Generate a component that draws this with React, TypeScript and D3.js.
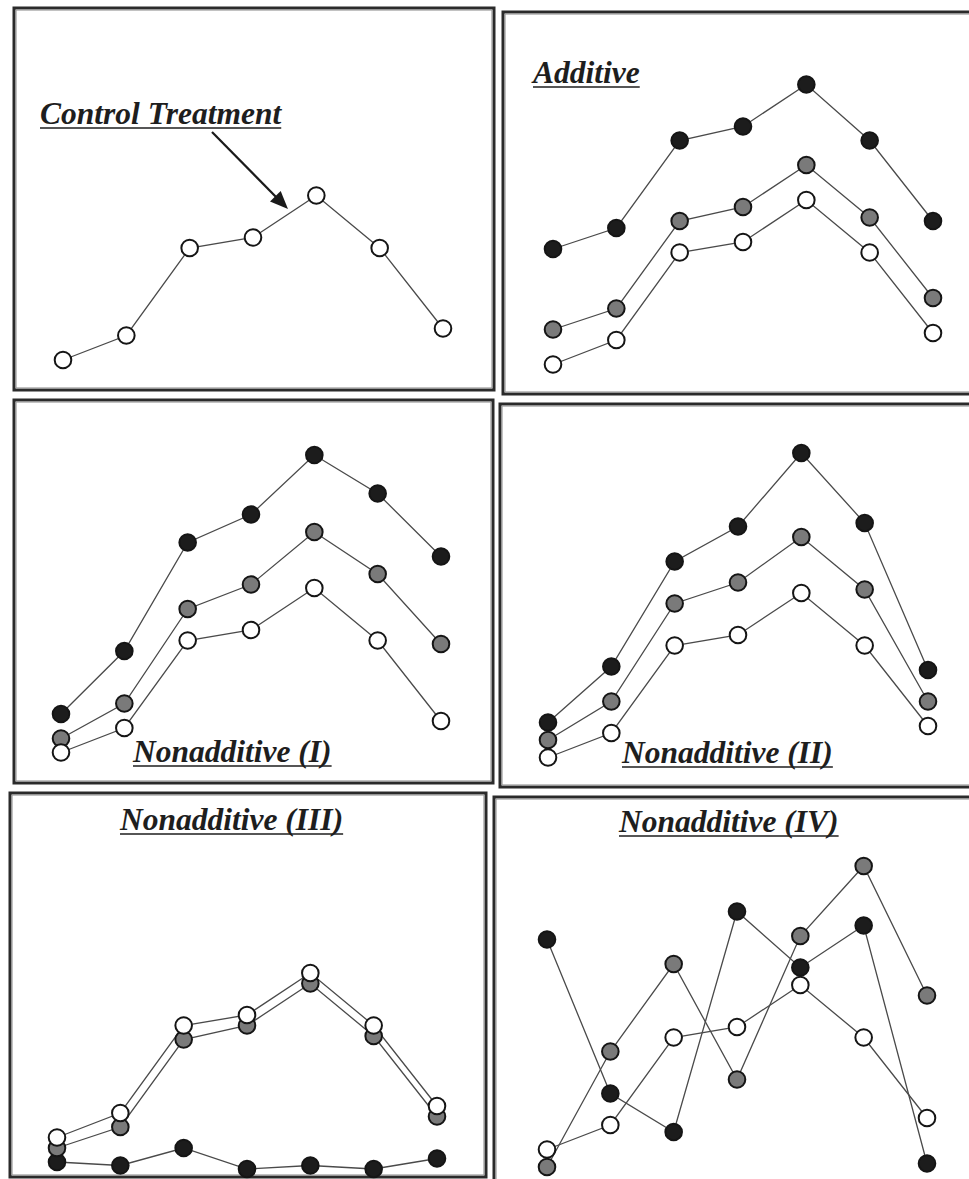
import React from "react";
import * as d3 from "d3";

// ---- data (arbitrary response units, 0–100) ----
const positions = [0, 1, 2, 3, 4, 5, 6];
const control = [5, 12, 37, 40, 52, 37, 14];
const additiveGray = [15, 21, 46, 50, 62, 47, 24];
const additiveBlack = [38, 44, 69, 73, 85, 69, 46];
const nonIGray = [9, 19, 46, 53, 68, 56, 36];
const nonIBlack = [16, 34, 65, 73, 90, 79, 61];
const nonIIGray = [10, 21, 49, 55, 68, 53, 21];
const nonIIBlack = [15, 31, 61, 71, 92, 72, 30];
const nonIIIGray = [2, 8, 33, 37, 49, 34, 11];
const nonIIIBlack = [-2, -3, 2, -4, -3, -4, -1];
const nonIVGray = [0, 33, 58, 25, 66, 86, 49];
const nonIVBlack = [65, 21, 10, 73, 57, 69, 1];

const titles = [
  "Control Treatment",
  "Additive",
  "Nonadditive (I)",
  "Nonadditive (II)",
  "Nonadditive (III)",
  "Nonadditive (IV)",
];

type Series = { values: number[]; fill: string };

const panelSeries: Series[][] = [
  [{ values: control, fill: "#ffffff" }],
  [
    { values: additiveBlack, fill: "#1c1c1c" },
    { values: additiveGray, fill: "#7a7a7a" },
    { values: control, fill: "#ffffff" },
  ],
  [
    { values: nonIBlack, fill: "#1c1c1c" },
    { values: nonIGray, fill: "#7a7a7a" },
    { values: control, fill: "#ffffff" },
  ],
  [
    { values: nonIIBlack, fill: "#1c1c1c" },
    { values: nonIIGray, fill: "#7a7a7a" },
    { values: control, fill: "#ffffff" },
  ],
  [
    { values: nonIIIBlack, fill: "#1c1c1c" },
    { values: nonIIIGray, fill: "#7a7a7a" },
    { values: control, fill: "#ffffff" },
  ],
  [
    { values: nonIVBlack, fill: "#1c1c1c" },
    { values: nonIVGray, fill: "#7a7a7a" },
    { values: control, fill: "#ffffff" },
  ],
];

// ---- layout ----
const W = 969;
const H = 1179;
const panels = [
  { x: 14, y: 8, w: 480, h: 382, dx: 49, base: 369.5, tx: 40, ty: 124 },
  { x: 503, y: 12, w: 490, h: 382, dx: 50, base: 370, tx: 533, ty: 83 },
  { x: 14, y: 400, w: 479, h: 383, dx: 47, base: 370, tx: 133, ty: 762 },
  { x: 500, y: 404, w: 490, h: 383, dx: 48, base: 371, tx: 622, ty: 763 },
  { x: 10, y: 793, w: 476, h: 384, dx: 47, base: 362, tx: 120, ty: 830 },
  { x: 494, y: 797, w: 490, h: 400, dx: 53, base: 370, tx: 619, ty: 832 },
];

const fontFamily = '"Liberation Serif", "Times New Roman", serif';

function Title({ x, y, text }: { x: number; y: number; text: string }) {
  const ref = React.useRef<SVGTextElement>(null);
  const [len, setLen] = React.useState(0);
  React.useLayoutEffect(() => {
    if (ref.current) setLen(ref.current.getComputedTextLength());
  }, [text]);
  return (
    <g>
      <text
        ref={ref}
        x={x}
        y={y}
        style={{ fontFamily, fontStyle: "italic", fontWeight: 700, fontSize: "31.5px" }}
        fill="#1e1e1e"
      >
        {text}
      </text>
      {len > 0 && (
        <line x1={x} x2={x + len} y1={y + 4} y2={y + 4} stroke="#1e1e1e" strokeWidth={1.6} />
      )}
    </g>
  );
}

export default function App() {
  return (
    <svg width={W} height={H} style={{ display: "block", position: "absolute", left: 0, top: 0, background: "#fff" }}>
      <defs>
        <clipPath id="page">
          <rect x={0} y={0} width={W} height={H} />
        </clipPath>
      </defs>
      <g clipPath="url(#page)">
        {panels.map((p, i) => {
          const xs = d3.scaleLinear().domain([0, 6]).range([p.x + p.dx, p.x + p.dx + 380]);
          const ys = d3.scaleLinear().domain([0, 100]).range([p.y + p.base, p.y + p.base - 350]);
          const line = d3
            .line<number>()
            .x((_, j) => xs(positions[j]))
            .y((v) => ys(v));
          const series = panelSeries[i];
          return (
            <g key={i}>
              <rect x={p.x} y={p.y} width={p.w} height={p.h} fill="#fff" stroke="#2b2b2b" strokeWidth={3} />
              <rect
                x={p.x + 2.2}
                y={p.y + 2.2}
                width={p.w - 4.4}
                height={p.h - 4.4}
                fill="none"
                stroke="#9a9a9a"
                strokeWidth={0.8}
              />
              <Title x={p.tx} y={p.ty} text={titles[i]} />
              {series.map((s, k) => (
                <path key={"l" + k} d={line(s.values) || ""} fill="none" stroke="#4a4a4a" strokeWidth={1.3} />
              ))}
              {series.map((s, k) => (
                <g key={"m" + k}>
                  {s.values.map((v, j) => (
                    <circle
                      key={j}
                      cx={xs(positions[j])}
                      cy={ys(v)}
                      r={8.3}
                      fill={s.fill}
                      stroke="#151515"
                      strokeWidth={2}
                    />
                  ))}
                </g>
              ))}
            </g>
          );
        })}
        {/* arrow from title to control line */}
        <line x1={212} y1={132} x2={279} y2={200} stroke="#1a1a1a" strokeWidth={2.2} />
        <path
          d={(() => {
            const tip = [288, 209];
            const ang = Math.atan2(209 - 132, 288 - 212);
            const len = 18;
            const hw = 7.5;
            const bx = tip[0] - len * Math.cos(ang);
            const by = tip[1] - len * Math.sin(ang);
            const px = -Math.sin(ang) * hw;
            const py = Math.cos(ang) * hw;
            return `M${tip[0]},${tip[1]}L${bx + px},${by + py}L${bx - px},${by - py}Z`;
          })()}
          fill="#1a1a1a"
        />
      </g>
    </svg>
  );
}
